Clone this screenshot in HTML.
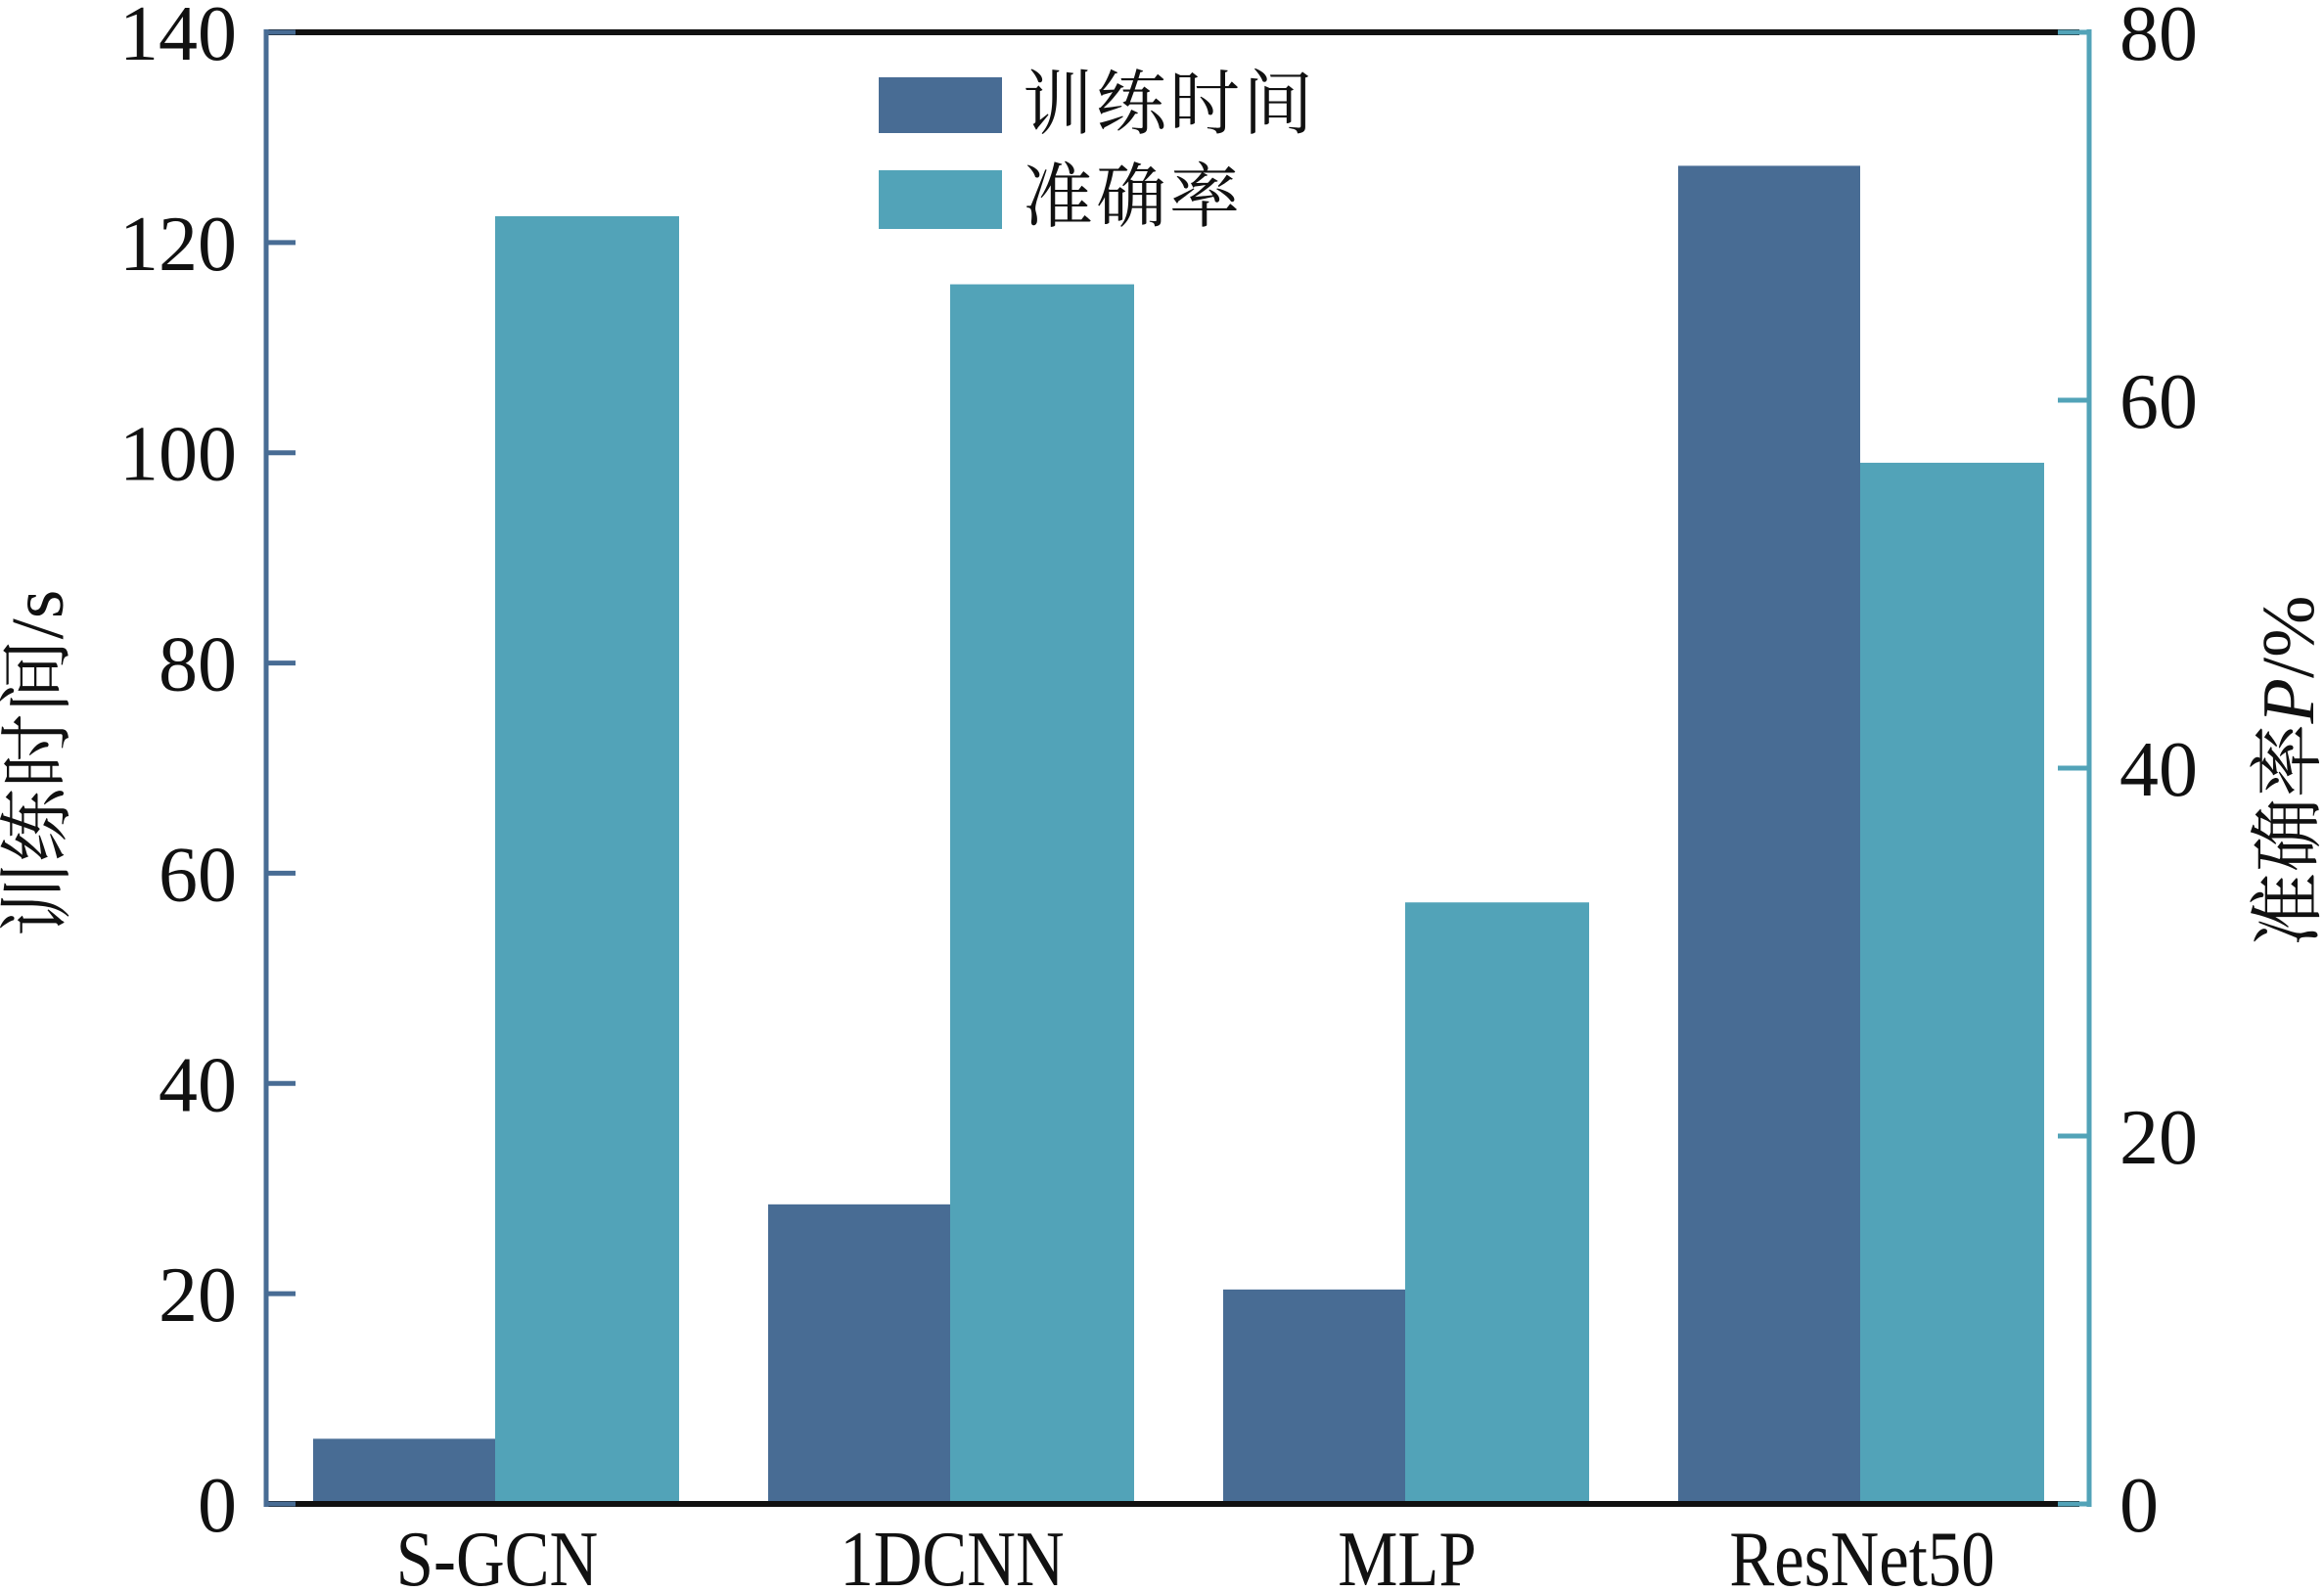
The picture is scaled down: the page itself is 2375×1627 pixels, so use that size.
<!DOCTYPE html>
<html><head><meta charset="utf-8">
<style>
html,body{margin:0;padding:0;background:#fff;}
svg{display:block;}
text{font-family:"Liberation Serif","Noto Serif CJK SC",serif;fill:#111;}
</style></head>
<body>
<svg id="chart" width="2375" height="1627" viewBox="0 0 2375 1627" xmlns="http://www.w3.org/2000/svg">
<g id="bars"></g>
<g id="axes"></g>
<g id="legend">
  <rect x="898" y="79" width="126" height="57" fill="#486c94"/>
  <text x="1045" y="131" font-size="72" letter-spacing="3">训练时间</text>
  <rect x="898" y="174" width="126" height="60" fill="#52a3b8"/>
  <text x="1045" y="226" font-size="72" letter-spacing="3">准确率</text>
</g>
<text font-size="76" text-anchor="middle" transform="translate(64,780) rotate(-90)">训练时间/s</text>
<text font-size="76" text-anchor="middle" transform="translate(2364,788) rotate(-90)">准确率<tspan font-style="italic">P</tspan>/%</text>
</svg>
<script>
const categories = ["S-GCN", "1DCNN", "MLP", "ResNet50"];
const trainTime = [6.2, 28.5, 20.4, 127.3];
const accuracy = [70.0, 66.3, 32.7, 56.6];
const leftTicks = [0, 20, 40, 60, 80, 100, 120, 140];
const rightTicks = [0, 20, 40, 60, 80];

const NS = "http://www.w3.org/2000/svg";
const X0 = 272, X1 = 2135, Y0 = 1537, Y1 = 33;
const yL = v => Y0 - (v / 140) * (Y0 - Y1);
const yR = v => Y0 - (v / 80) * (Y0 - Y1);
const catX = i => 506 + i * 465;
const BW = 186;
function mk(tag, attrs, parent) {
  const e = document.createElementNS(NS, tag);
  for (const k in attrs) e.setAttribute(k, attrs[k]);
  parent.appendChild(e);
  return e;
}
const bars = document.getElementById('bars');
categories.forEach((c, i) => {
  const cx = catX(i);
  const r1 = mk('rect', {x: cx - BW, y: yL(trainTime[i]), width: BW, height: Y0 - yL(trainTime[i]), fill: '#486c94'}, bars);
  
  
  const r2 = mk('rect', {x: cx, y: yR(accuracy[i]), width: BW + 2, height: Y0 - yR(accuracy[i]), fill: '#52a3b8'}, bars);
  
  
  const t = mk('text', {x: cx + 2, y: 1620, 'font-size': 80, 'text-anchor': 'middle', transform: `translate(${cx + 2},0) scale(0.86,1) translate(${-(cx + 2)},0)`}, bars);
  t.textContent = c;
  
  
});
const axes = document.getElementById('axes');
mk('line', {x1: X0, y1: Y1, x2: X1 - 10, y2: Y1, stroke: '#111', 'stroke-width': 6}, axes);
mk('line', {x1: X0, y1: Y0, x2: X1 - 10, y2: Y0, stroke: '#111', 'stroke-width': 6}, axes);
const la = mk('line', {x1: X0, y1: Y1 - 3, x2: X0, y2: Y0 + 3, stroke: '#486c94', 'stroke-width': 5}, axes);


const ra = mk('line', {x1: X1, y1: Y1 - 3, x2: X1, y2: Y0 + 3, stroke: '#52a3b8', 'stroke-width': 5}, axes);


leftTicks.forEach(v => {
  mk('line', {x1: X0, y1: yL(v), x2: X0 + 30, y2: yL(v), stroke: '#486c94', 'stroke-width': 5}, axes);
  const t = mk('text', {x: 242, y: yL(v) + 28, 'font-size': 80, 'text-anchor': 'end'}, axes);
  t.textContent = v;
  
  
});
rightTicks.forEach(v => {
  mk('line', {x1: X1 - 32, y1: yR(v), x2: X1, y2: yR(v), stroke: '#52a3b8', 'stroke-width': 5}, axes);
  const t = mk('text', {x: 2166, y: yR(v) + 28, 'font-size': 80}, axes);
  t.textContent = v;
  
  
});
</script>
</body></html>
